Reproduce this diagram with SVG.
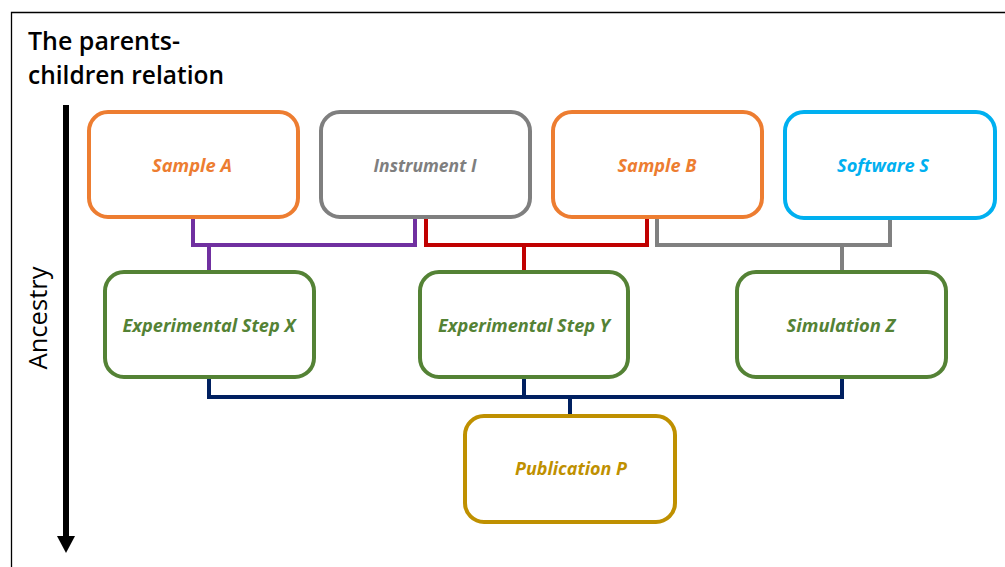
<svg xmlns="http://www.w3.org/2000/svg" width="1005" height="567" viewBox="0 0 1005 567">
<style>
.box{fill:#fff;stroke-width:4}
.lbl{font-family:"Open Sans","Liberation Sans",sans-serif;font-size:18.5px;font-weight:700;font-style:italic;text-anchor:middle}
.con{fill:none;stroke-width:4}
.title{font-family:"Open Sans","Liberation Sans",sans-serif;font-size:25px;font-weight:600;fill:#000}
</style>
<rect x="0" y="0" width="1005" height="567" fill="#fff"/>
<path d="M11.5 567 V12.5 H1005" fill="none" stroke="#000" stroke-width="1.3"/>
<g id="title">
<text class="title" x="28" y="50" textLength="152" lengthAdjust="spacingAndGlyphs">The parents-</text>
<text class="title" x="28" y="84" textLength="196" lengthAdjust="spacingAndGlyphs">children relation</text>
</g>
<g id="ancestry-axis">
<line x1="66" y1="105" x2="66" y2="538" stroke="#000" stroke-width="6"/>
<polygon points="57,536 75,536 66,553" fill="#000"/>
<text x="0" y="0" transform="translate(47,318) rotate(-90)" font-family="Open Sans,Liberation Sans,sans-serif" font-size="26" font-weight="500" text-anchor="middle" fill="#000" textLength="103" lengthAdjust="spacingAndGlyphs">Ancestry</text>
</g>
<g id="connectors">
<path class="con" stroke="#7030A0" d="M193 219 V245 H415 V219 M209 245 V272"/>
<path class="con" stroke="#C00000" d="M426 219 V245 H647 V219 M524 245 V272"/>
<path class="con" stroke="#808080" d="M657 219 V245 H890 V220 M842 245 V272"/>
<path class="con" stroke="#002060" d="M209 379 V397 H842 V379 M524 379 V397 M570 397 V416"/>
</g>
<g id="sample-a">
<rect class="box" stroke="#ED7D31" x="89" y="112" width="209" height="105" rx="19"/>
<text class="lbl" fill="#ED7D31" x="192" y="172" textLength="80" lengthAdjust="spacingAndGlyphs">Sample A</text>
</g>
<g id="instrument-i">
<rect class="box" stroke="#7F7F7F" x="321" y="112" width="209" height="105" rx="19"/>
<text class="lbl" fill="#7F7F7F" x="425" y="172" textLength="103" lengthAdjust="spacingAndGlyphs">Instrument I</text>
</g>
<g id="sample-b">
<rect class="box" stroke="#ED7D31" x="553" y="112" width="209" height="105" rx="19"/>
<text class="lbl" fill="#ED7D31" x="657" y="172" textLength="79" lengthAdjust="spacingAndGlyphs">Sample B</text>
</g>
<g id="software-s">
<rect class="box" stroke="#00B0F0" x="785" y="112" width="210" height="106" rx="19"/>
<text class="lbl" fill="#00B0F0" x="883" y="172" textLength="92" lengthAdjust="spacingAndGlyphs">Software S</text>
</g>
<g id="step-x">
<rect class="box" stroke="#548235" x="105" y="272" width="209" height="105" rx="19"/>
<text class="lbl" fill="#548235" x="209" y="332" textLength="173" lengthAdjust="spacingAndGlyphs">Experimental Step X</text>
</g>
<g id="step-y">
<rect class="box" stroke="#548235" x="420" y="272" width="208" height="105" rx="19"/>
<text class="lbl" fill="#548235" x="524" y="332" textLength="172" lengthAdjust="spacingAndGlyphs">Experimental Step Y</text>
</g>
<g id="simulation-z">
<rect class="box" stroke="#548235" x="737" y="272" width="209" height="105" rx="19"/>
<text class="lbl" fill="#548235" x="841" y="332" textLength="109" lengthAdjust="spacingAndGlyphs">Simulation Z</text>
</g>
<g id="publication-p">
<rect class="box" stroke="#BF9000" x="465" y="416" width="210" height="106" rx="19"/>
<text class="lbl" fill="#BF9000" x="571" y="475" textLength="112" lengthAdjust="spacingAndGlyphs">Publication P</text>
</g>
</svg>
